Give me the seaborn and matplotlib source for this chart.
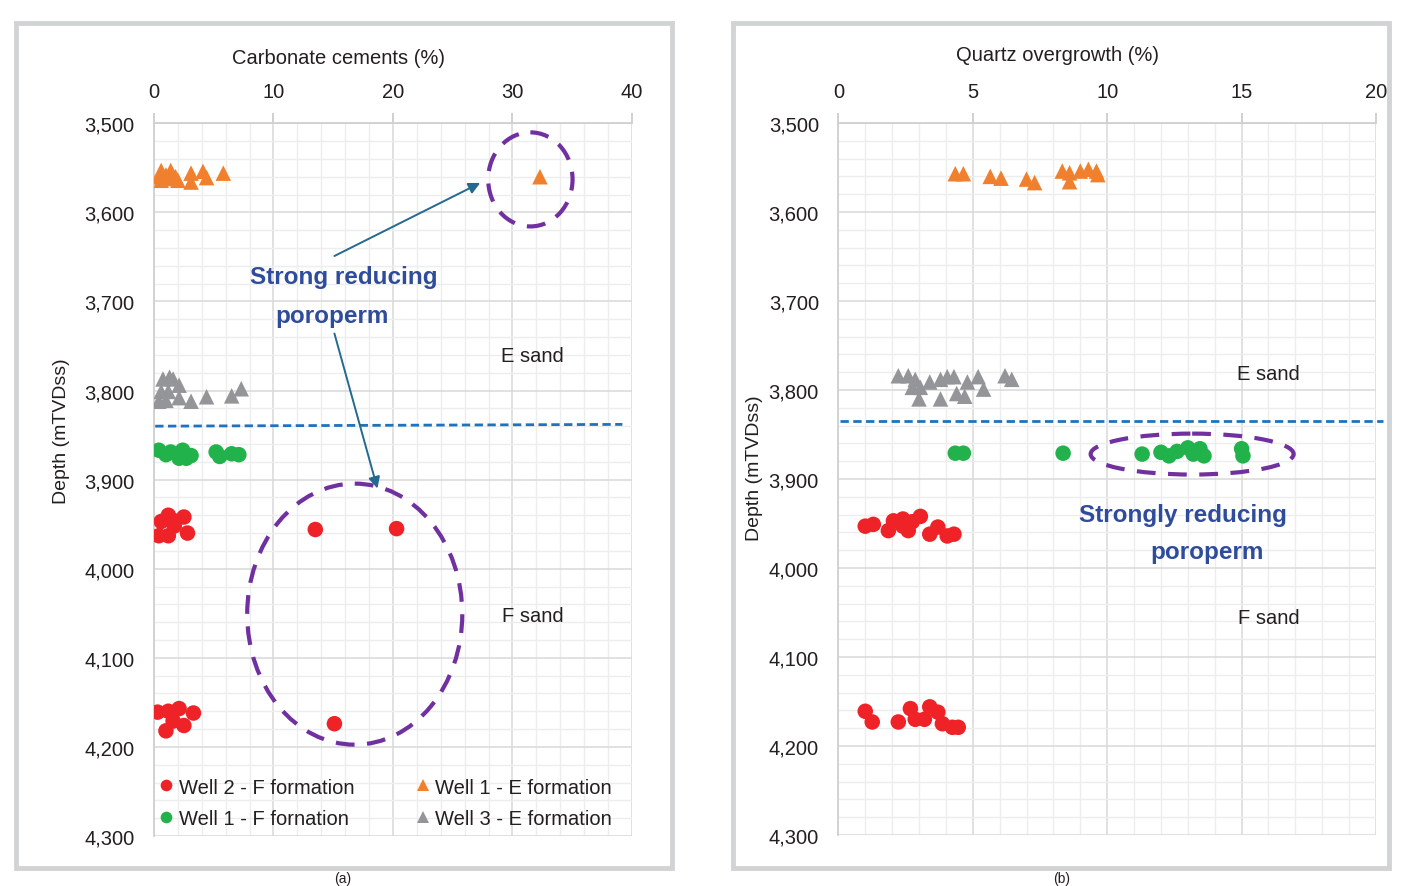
import matplotlib
matplotlib.use('Agg')
import matplotlib.pyplot as plt
import matplotlib.patches as mpatches
from matplotlib.ticker import MultipleLocator, FuncFormatter
import pandas as pd
import seaborn as sns

# ---- data ----
SERIES = ['Well 2 - F formation', 'Well 1 - F fornation',
          'Well 1 - E formation', 'Well 3 - E formation']
COLORS = ['#EE2227', '#22B24C', '#F0802E', '#939598']
MARKERS = ['o', 'o', '^', '^']

# (a) carbonate cements (%)
a_w2f_x = [0.6, 1.2, 1.7, 2.5, 0.4, 1.2, 2.8, 1.5, 13.5, 20.3, 15.1,
           0.3, 1.2, 2.1, 3.3, 1.0, 1.6, 2.5]
a_w2f_y = [3947, 3940, 3952, 3942, 3963, 3963, 3960, 3945, 3956, 3955, 4174,
           4161, 4160, 4157, 4162, 4182, 4171, 4176]
a_w1f_x = [0.4, 1.4, 2.1, 2.4, 3.1, 5.2, 5.5, 6.5, 7.1, 1.0, 2.7]
a_w1f_y = [3867, 3869, 3876, 3867, 3873, 3869, 3874, 3871, 3872, 3872, 3876]
a_w1e_x = [0.6, 1.4, 0.6, 1.2, 2.0, 3.1, 3.1, 4.1, 4.4, 5.8, 0.4, 1.0, 1.8, 32.3]
a_w1e_y = [3553, 3553, 3564, 3562, 3564, 3556, 3566, 3554, 3561, 3556, 3560, 3558, 3560, 3560]
a_w3e_x = [0.75, 1.3, 1.6, 2.1, 0.6, 1.2, 0.4, 1.0, 2.1, 3.1, 4.4, 6.5, 7.3]
a_w3e_y = [3787, 3785, 3787, 3794, 3801, 3801, 3812, 3811, 3808, 3812, 3807, 3806, 3798]

# (b) quartz overgrowth (%)
b_w2f_x = [1.0, 1.3, 1.86, 2.05, 2.4, 2.6, 3.05, 3.4, 3.7, 4.05, 4.3, 2.4, 2.75,
           1.0, 1.26, 2.23, 2.68, 2.86, 3.2, 3.4, 3.7, 3.87, 4.24, 4.46]
b_w2f_y = [3953, 3951, 3958, 3947, 3945, 3958, 3942, 3962, 3954, 3964, 3962, 3953, 3948,
           4161, 4173, 4173, 4158, 4170, 4170, 4156, 4162, 4175, 4179, 4179]
b_w1f_x = [4.35, 4.65, 8.36, 11.3, 12.0, 12.3, 12.6, 13.0, 13.3, 13.6, 15.0, 15.05, 13.45, 13.2]
b_w1f_y = [3871, 3871, 3871, 3872, 3870, 3874, 3869, 3865, 3870, 3874, 3866, 3874, 3866, 3872]
b_w1e_x = [4.35, 4.65, 5.65, 6.05, 7.0, 7.3, 8.33, 8.6, 8.6, 9.0, 9.3, 9.6, 9.65]
b_w1e_y = [3557, 3557, 3560, 3562, 3563, 3567, 3554, 3556, 3566, 3554, 3552, 3554, 3558]
b_w3e_x = [2.23, 2.6, 2.86, 2.75, 3.05, 3.4, 3.8, 4.05, 4.3, 4.8, 5.2, 5.4,
           3.0, 3.8, 4.4, 4.7, 6.2, 6.45]
b_w3e_y = [3784, 3784, 3788, 3797, 3797, 3791, 3788, 3785, 3785, 3791, 3785, 3799,
           3810, 3810, 3804, 3807, 3784, 3788]


def make_frame(groups):
    rows = []
    for name, (xs, ys) in zip(SERIES, groups):
        for x, y in zip(xs, ys):
            rows.append({'value': x, 'depth': y, 'series': name})
    return pd.DataFrame(rows)


df_a = make_frame([(a_w2f_x, a_w2f_y), (a_w1f_x, a_w1f_y),
                   (a_w1e_x, a_w1e_y), (a_w3e_x, a_w3e_y)])
df_b = make_frame([(b_w2f_x, b_w2f_y), (b_w1f_x, b_w1f_y),
                   (b_w1e_x, b_w1e_y), (b_w3e_x, b_w3e_y)])

# ---- style ----
sns.set_style('white')
plt.rcParams['font.family'] = ['Liberation Sans', 'DejaVu Sans']

TXT = '#231F20'
BLUE_TXT = '#2F4C9C'
ARROW = '#24698E'
PURPLE = '#7030A0'
DASH_BLUE = '#1F72BE'
FS = 14

fig = plt.figure(figsize=(14.09, 8.87), dpi=100)
ax_a = fig.add_axes([0.1093, 0.0564, 0.3392, 0.8035])
ax_b = fig.add_axes([0.5950, 0.0575, 0.3816, 0.8027])

# frames around the two panels
for x0, x1 in [(16, 672), (733, 1389)]:
    fig.add_artist(mpatches.Rectangle((x0 / 1409, 1 - 869 / 887), (x1 - x0) / 1409,
                                      (869 - 24) / 887, transform=fig.transFigure,
                                      fill=False, ec='#D2D3D5', lw=3.5))

palette = dict(zip(SERIES, COLORS))
markers = dict(zip(SERIES, MARKERS))

for ax, df, xmax, xmaj, xmin_step, xlabel in [
        (ax_a, df_a, 40, 10, 2, 'Carbonate cements (%)'),
        (ax_b, df_b, 20, 5, 1, 'Quartz overgrowth (%)')]:
    sns.scatterplot(data=df, x='value', y='depth', hue='series', style='series',
                    hue_order=SERIES, style_order=SERIES, palette=palette,
                    markers=markers, s=125, linewidth=0, ax=ax, zorder=3,
                    legend=(ax is ax_a))
    ax.set_xlim(0, xmax)
    ax.set_ylim(4300, 3500)
    ax.xaxis.tick_top()
    ax.xaxis.set_label_position('top')
    ax.xaxis.set_major_locator(MultipleLocator(xmaj))
    ax.xaxis.set_minor_locator(MultipleLocator(xmin_step))
    ax.yaxis.set_major_locator(MultipleLocator(100))
    ax.yaxis.set_minor_locator(MultipleLocator(20))
    ax.yaxis.set_major_formatter(FuncFormatter(lambda v, p: f'{int(v):,}'))
    ax.grid(which='major', color='#D9D9D9', lw=1.1)
    ax.grid(which='minor', color='#EDEDED', lw=1.0)
    ax.set_axisbelow(True)
    for side in ['right', 'bottom']:
        ax.spines[side].set_visible(False)
    for side in ['left', 'top']:
        ax.spines[side].set_color('#D0D0D0')
        ax.spines[side].set_linewidth(1.3)
    ax.tick_params(which='major', direction='out', length=7, color='#C8C8C8',
                   labelsize=FS + 0.5, labelcolor=TXT, width=1.2)
    ax.tick_params(axis='x', which='major', pad=9)
    ax.tick_params(axis='y', which='major', pad=7)
    ax.tick_params(which='minor', length=0)
    ax.set_xlabel(xlabel, fontsize=FS + 0.5, color=TXT)
    ax.set_ylabel('Depth (mTVDss)', fontsize=FS, color=TXT)

ax_a.xaxis.set_label_coords(0.385, 1.085)
ax_b.xaxis.set_label_coords(0.407, 1.088)
ax_a.yaxis.set_label_coords(-0.175, 0.57)
ax_b.yaxis.set_label_coords(-0.14, 0.517)

# legend on panel (a)
leg = ax_a.legend(loc='upper left', bbox_to_anchor=(0.005, 0.082), ncol=2,
                  frameon=False, fontsize=FS + 0.5, handlelength=1.0,
                  handletextpad=0.1, columnspacing=2.9, labelspacing=0.62,
                  markerscale=0.75, borderaxespad=0, borderpad=0)
for t in leg.get_texts():
    t.set_color(TXT)

# boundary between E and F sands
ax_a.plot([0.1, 39.2], [3840, 3838], ls=(0, (3, 1.6)), lw=2, color=DASH_BLUE, zorder=2)
ax_b.plot([0.06, 20.25], [3835, 3835], ls=(0, (3, 1.6)), lw=2, color=DASH_BLUE,
          zorder=2, clip_on=False)

for ax, x, ye, yf in [(ax_a, 31.7, 3761, 4052), (ax_b, 16.0, 3782, 4056)]:
    ax.text(x, ye, 'E sand', fontsize=FS + 0.5, color=TXT, ha='center', va='center')
    ax.text(x, yf, 'F sand', fontsize=FS + 0.5, color=TXT, ha='center', va='center')

# highlighted clusters
for ax, c, w, h in [(ax_a, (31.5, 3563), 7.06, 105.6),
                    (ax_a, (16.8, 4051), 18.0, 293),
                    (ax_b, (13.16, 3872), 7.55, 46)]:
    ax.add_patch(mpatches.Ellipse(c, w, h, fill=False, ec=PURPLE, lw=3,
                                  ls=(0, (4.5, 3)), zorder=4))

BOLD = dict(fontsize=17.5, fontweight='bold', color=BLUE_TXT, ha='center',
            va='center', zorder=5)
ax_a.text(15.9, 3672, 'Strong reducing', **BOLD)
ax_a.text(14.9, 3716, 'poroperm', **BOLD)
ax_b.text(12.8, 3940, 'Strongly reducing', **BOLD)
ax_b.text(13.7, 3982, 'poroperm', **BOLD)

arrow_props = dict(arrowstyle='-|>', color=ARROW, lw=1.4, mutation_scale=17,
                   shrinkA=0, shrinkB=0)
ax_a.annotate('', xy=(27.3, 3567), xytext=(15.1, 3649), arrowprops=arrow_props, zorder=5)
ax_a.annotate('', xy=(18.7, 3910), xytext=(15.1, 3736), arrowprops=arrow_props, zorder=5)

# panel captions under the frames
fig.text(343 / 1409, 1 - 886.5 / 887, '(a)', fontsize=10, color=TXT, ha='center', va='bottom')
fig.text(1062 / 1409, 1 - 886.5 / 887, '(b)', fontsize=10, color=TXT, ha='center', va='bottom')

fig.savefig('out.png', dpi=100)
